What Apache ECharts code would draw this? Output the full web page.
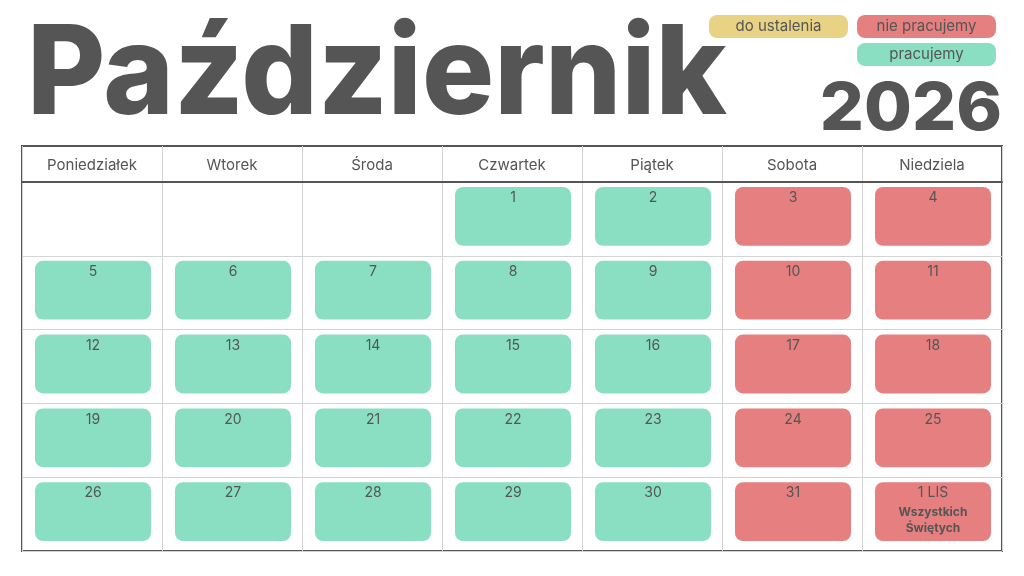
<!DOCTYPE html>
<html>
<head>
<meta charset="utf-8">
<script src="https://cdn.jsdelivr.net/npm/echarts@6/dist/echarts.min.js"></script>
<style>
  html, body { margin: 0; padding: 0; background: #fff; }
  #cal { width: 1024px; height: 576px; }
</style>
</head>
<body>
<div id="cal"></div>
<script>
// dane kalendarza
var monthTitle = 'Październik';
var yearTitle = '2026';
var weekdays = ['Poniedziałek', 'Wtorek', 'Środa', 'Czwartek', 'Piątek', 'Sobota', 'Niedziela'];
var weeks = ['1', '2', '3', '4', '5'];
var dayLabels = ['1', '2', '3', '4', '5', '6', '7', '8', '9', '10', '11', '12', '13', '14', '15', '16',
  '17', '18', '19', '20', '21', '22', '23', '24', '25', '26', '27', '28', '29', '30', '31', '1 LIS'];
// p = pracujemy, n = nie pracujemy, u = do ustalenia
var dayStatus = ['p', 'p', 'n', 'n',
  'p', 'p', 'p', 'p', 'p', 'n', 'n',
  'p', 'p', 'p', 'p', 'p', 'n', 'n',
  'p', 'p', 'p', 'p', 'p', 'n', 'n',
  'p', 'p', 'p', 'p', 'p', 'n', 'n'];
var dayNotes = ['', '', '', '', '', '', '', '', '', '', '', '', '', '', '', '', '', '', '', '', '', '', '', '',
  '', '', '', '', '', '', '', 'Wszystkich\nŚwiętych'];
var firstWeekday = 3; // 1 października 2026 = czwartek

var statusNames = { u: 'do ustalenia', n: 'nie pracujemy', p: 'pracujemy' };
var statusColors = { u: '#E8D283', n: '#E67F7F', p: '#8ADFC2' };
var textColor = '#555555';
var font = 'Inter';

var cells = dayLabels.map(function (lab, i) {
  var pos = i + firstWeekday;
  return [pos % 7, Math.floor(pos / 7), lab, dayStatus[i], dayNotes[i]];
});

var myChart = echarts.init(document.getElementById('cal'));

function renderDay(params, api) {
  var c = api.coord([api.value(0), api.value(1)]);
  var s = api.size([1, 1]);
  var w = s[0] - 24, h = s[1] - 15;
  var top = c[1] - s[1] / 2 + 5;
  var item = cells[params.dataIndex];
  var children = [{
    type: 'rect',
    shape: { x: c[0] - w / 2 + 1, y: top, width: w, height: h, r: 8 },
    style: { fill: statusColors[item[3]] }
  }, {
    type: 'text',
    style: {
      text: item[2], x: c[0] + 1, y: top + 11, align: 'center', verticalAlign: 'middle',
      fontSize: 14, fontFamily: font, fill: textColor
    }
  }];
  if (item[4]) {
    children.push({
      type: 'text',
      style: {
        text: item[4], x: c[0] + 1, y: top + 38, align: 'center', verticalAlign: 'middle',
        fontSize: 12, lineHeight: 16, fontWeight: 'bold', fontFamily: font, fill: textColor
      }
    });
  }
  return { type: 'group', children: children };
}

// legenda
var legendItems = [
  { key: 'u', x: 709, y: 15 },
  { key: 'n', x: 857, y: 15 },
  { key: 'p', x: 857, y: 43 }
];
var graphics = legendItems.map(function (it) {
  return {
    type: 'group', x: it.x, y: it.y,
    children: [{
      type: 'rect', shape: { x: 0, y: 0, width: 139, height: 23, r: 8 },
      style: { fill: statusColors[it.key] }
    }, {
      type: 'text',
      style: {
        text: statusNames[it.key], x: 69.5, y: 11.5, align: 'center', verticalAlign: 'middle',
        fontSize: 15, fontFamily: font, fill: textColor
      }
    }]
  };
});
graphics.push({
  type: 'group', x: 27, y: 77, scaleX: 0.97,
  children: [{
    type: 'text',
    style: {
      text: monthTitle, x: 0, y: 0, verticalAlign: 'middle',
      fontSize: 124, fontWeight: 800, fontFamily: font, fill: textColor
    }
  }]
});
graphics.push({
  type: 'group', x: 1002, y: 110, scaleX: 1.05,
  children: [{
    type: 'text',
    style: {
      text: yearTitle, x: 0, y: 0, align: 'right', verticalAlign: 'middle',
      fontSize: 66, fontWeight: 800, fontFamily: font, fill: textColor
    }
  }]
});

var option = {
  animation: false,
  backgroundColor: '#fff',
  graphic: graphics,
  grid: [
    { left: 22, top: 146, width: 980, height: 36, show: true, borderColor: '#555', borderWidth: 2 },
    { left: 22, top: 182, width: 980, height: 369, show: true, borderColor: '#555', borderWidth: 2 }
  ],
  xAxis: [{
    gridIndex: 0, type: 'category', data: weekdays,
    axisLine: { show: false }, axisTick: { show: false }, axisLabel: { show: false },
    splitLine: { show: true, lineStyle: { color: '#d4d4d4', width: 1 } }
  }, {
    gridIndex: 1, type: 'category', data: weekdays, position: 'top',
    axisLine: { show: true, lineStyle: { color: '#555', width: 2 } },
    axisTick: { show: false },
    axisLabel: { margin: 9, fontSize: 15, fontFamily: font, color: textColor },
    splitLine: { show: true, lineStyle: { color: '#d4d4d4', width: 1 } }
  }],
  yAxis: [{
    gridIndex: 0, type: 'category', data: [''], show: false
  }, {
    gridIndex: 1, type: 'category', data: weeks, inverse: true,
    axisLine: { show: false }, axisTick: { show: false }, axisLabel: { show: false },
    splitLine: { show: true, lineStyle: { color: '#d4d4d4', width: 1 } }
  }],
  series: [{
    type: 'custom',
    xAxisIndex: 1, yAxisIndex: 1,
    renderItem: renderDay,
    data: cells.map(function (c) { return [c[0], c[1]]; }),
    z: 5
  }]
};
myChart.setOption(option);
</script>
</body>
</html>
